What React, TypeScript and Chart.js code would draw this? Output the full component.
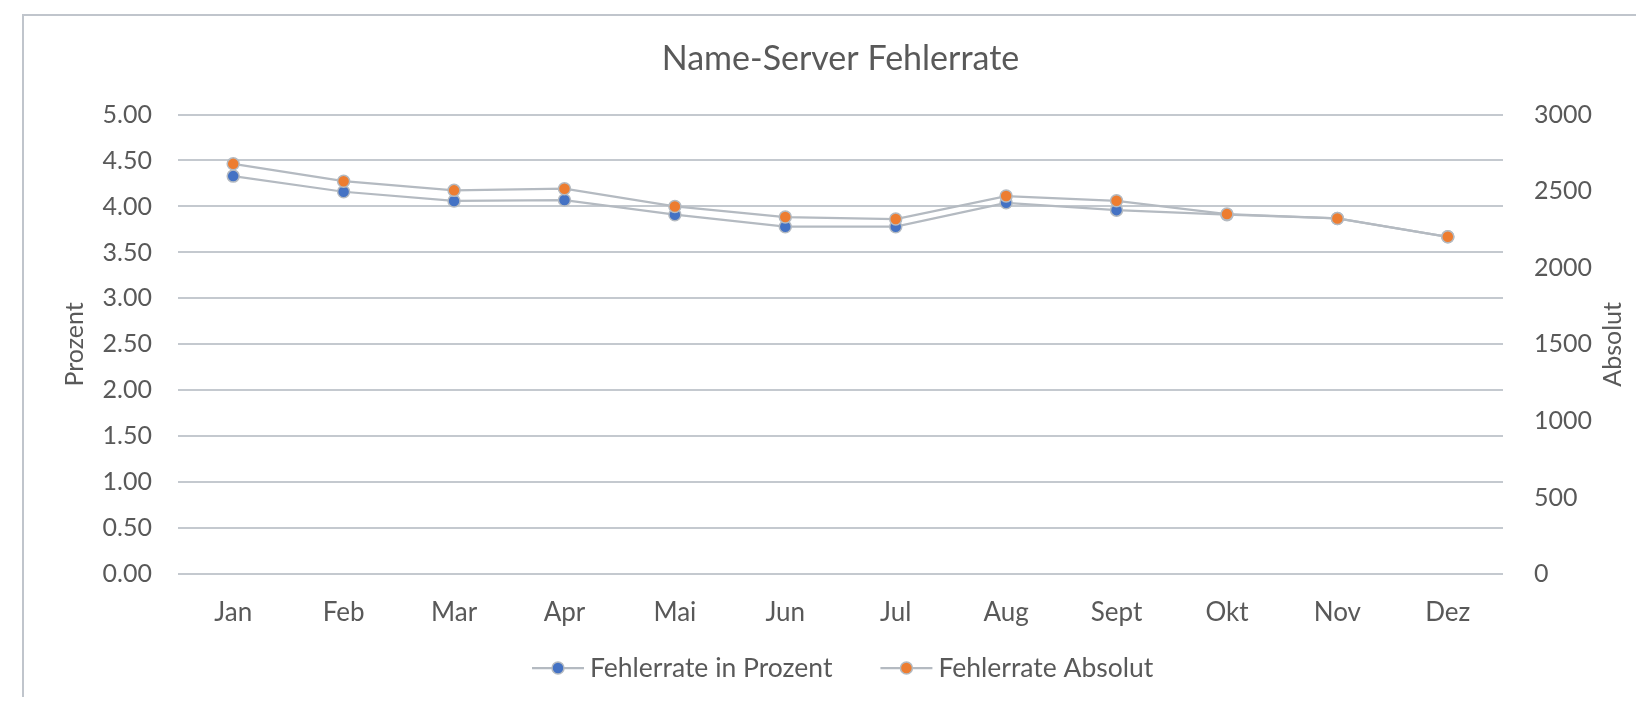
import React, { useEffect, useRef } from "react";
import { Chart, registerables } from "chart.js";

Chart.register(...registerables);

// ---- Data ----
const months = ["Jan", "Feb", "Mar", "Apr", "Mai", "Jun", "Jul", "Aug", "Sept", "Okt", "Nov", "Dez"];
const fehlerrateProzent = [4.33, 4.16, 4.06, 4.07, 3.91, 3.78, 3.78, 4.04, 3.96, 3.91, 3.87, 3.67];
const fehlerrateAbsolut = [2678, 2565, 2505, 2516, 2400, 2331, 2318, 2468, 2437, 2350, 2322, 2202];
const seriesLabels = ["Fehlerrate in Prozent", "Fehlerrate Absolut"];
const chartTitle = "Name-Server Fehlerrate";
const leftAxisTitle = "Prozent";
const rightAxisTitle = "Absolut";

// ---- Style ----
const FONT = "Lato, 'Open Sans', sans-serif";
const TEXT = "#595959";
const GRID = "#C4C9CF";
const LINE = "#B4BAC1";
const BLUE = "#4472C4";
const ORANGE = "#ED7D31";

const decorPlugin = {
  id: "decor",
  beforeDraw(chart: any) {
    const ctx = chart.ctx;
    ctx.save();
    ctx.strokeStyle = "#C0C5CC";
    ctx.lineWidth = 2;
    ctx.strokeRect(15, 7, chart.width + 100, chart.height + 100);
    ctx.restore();
  },
  afterDraw(chart: any) {
    const { ctx, chartArea } = chart;
    // right axis title (reads bottom to top)
    ctx.save();
    ctx.fillStyle = TEXT;
    ctx.font = `25px ${FONT}`;
    ctx.translate(1605, (chartArea.top + chartArea.bottom) / 2);
    ctx.rotate(-Math.PI / 2);
    ctx.textAlign = "center";
    ctx.textBaseline = "middle";
    ctx.fillText(rightAxisTitle, 0, 0);
    ctx.restore();

    // legend
    ctx.save();
    ctx.font = `26.5px ${FONT}`;
    ctx.textAlign = "left";
    ctx.textBaseline = "middle";
    let x = 524;
    const y = 660;
    chart.data.datasets.forEach((ds: any) => {
      ctx.strokeStyle = LINE;
      ctx.lineWidth = 2.25;
      ctx.beginPath();
      ctx.moveTo(x, y);
      ctx.lineTo(x + 52, y);
      ctx.stroke();
      ctx.beginPath();
      ctx.arc(x + 26, y, 6, 0, Math.PI * 2);
      ctx.fillStyle = ds.pointBackgroundColor;
      ctx.fill();
      ctx.lineWidth = 1.5;
      ctx.strokeStyle = ds.pointBorderColor;
      ctx.stroke();
      ctx.fillStyle = TEXT;
      ctx.fillText(ds.label, x + 58, y);
      x += 58 + ctx.measureText(ds.label).width + 48;
    });
    ctx.restore();
  },
};

export default function App() {
  const canvasRef = useRef<HTMLCanvasElement | null>(null);

  useEffect(() => {
    if (!canvasRef.current) return;
    const chart = new Chart(canvasRef.current, {
      type: "line",
      data: {
        labels: months,
        datasets: [
          {
            label: seriesLabels[0],
            data: fehlerrateProzent,
            yAxisID: "y",
            borderColor: LINE,
            borderWidth: 2.25,
            pointBackgroundColor: BLUE,
            pointBorderColor: LINE,
            pointBorderWidth: 1.5,
            pointRadius: 6,
            tension: 0,
            order: 1,
          },
          {
            label: seriesLabels[1],
            data: fehlerrateAbsolut,
            yAxisID: "y1",
            borderColor: LINE,
            borderWidth: 2.25,
            pointBackgroundColor: ORANGE,
            pointBorderColor: LINE,
            pointBorderWidth: 1.5,
            pointRadius: 6,
            tension: 0,
            order: 0,
          },
        ],
      },
      options: {
        animation: false,
        responsive: true,
        maintainAspectRatio: false,
        layout: { padding: { top: 0, left: 0, right: 0, bottom: 62.7 } },
        plugins: {
          legend: { display: false },
          tooltip: { enabled: false },
          title: {
            display: true,
            text: chartTitle,
            fullSize: false,
            color: TEXT,
            font: { family: FONT, size: 34, weight: "normal" },
            padding: { top: 30.2, bottom: 35.5 },
          },
        },
        scales: {
          x: {
            offset: true,
            grid: { display: false },
            border: { display: false },
            ticks: {
              color: TEXT,
              font: { family: FONT, size: 26 },
              padding: 15,
              maxRotation: 0,
            },
            afterFit: (s: any) => {
              s.height = 60;
            },
          },
          y: {
            position: "left",
            min: 0,
            max: 5,
            grid: { color: GRID, lineWidth: 2, drawTicks: false },
            border: { display: false },
            ticks: {
              stepSize: 0.5,
              color: TEXT,
              font: { family: FONT, size: 25 },
              padding: 26,
              callback: (v: any) => Number(v).toFixed(2),
            },
            title: {
              display: true,
              text: leftAxisTitle,
              color: TEXT,
              font: { family: FONT, size: 25 },
              padding: { top: 52, bottom: 0 },
            },
            afterFit: (s: any) => {
              s.width = 170;
            },
          },
          y1: {
            position: "right",
            min: 0,
            max: 3000,
            grid: { display: false, drawTicks: false },
            border: { display: false },
            ticks: {
              stepSize: 500,
              color: TEXT,
              font: { family: FONT, size: 25 },
              padding: 31,
              callback: (v: any) => String(v),
            },
            afterFit: (s: any) => {
              s.width = 133;
            },
          },
        },
      },
      plugins: [decorPlugin],
    });
    return () => chart.destroy();
  }, []);

  return (
    <div style={{ position: "relative", width: 1628, height: 689 }}>
      <canvas ref={canvasRef} />
    </div>
  );
}
